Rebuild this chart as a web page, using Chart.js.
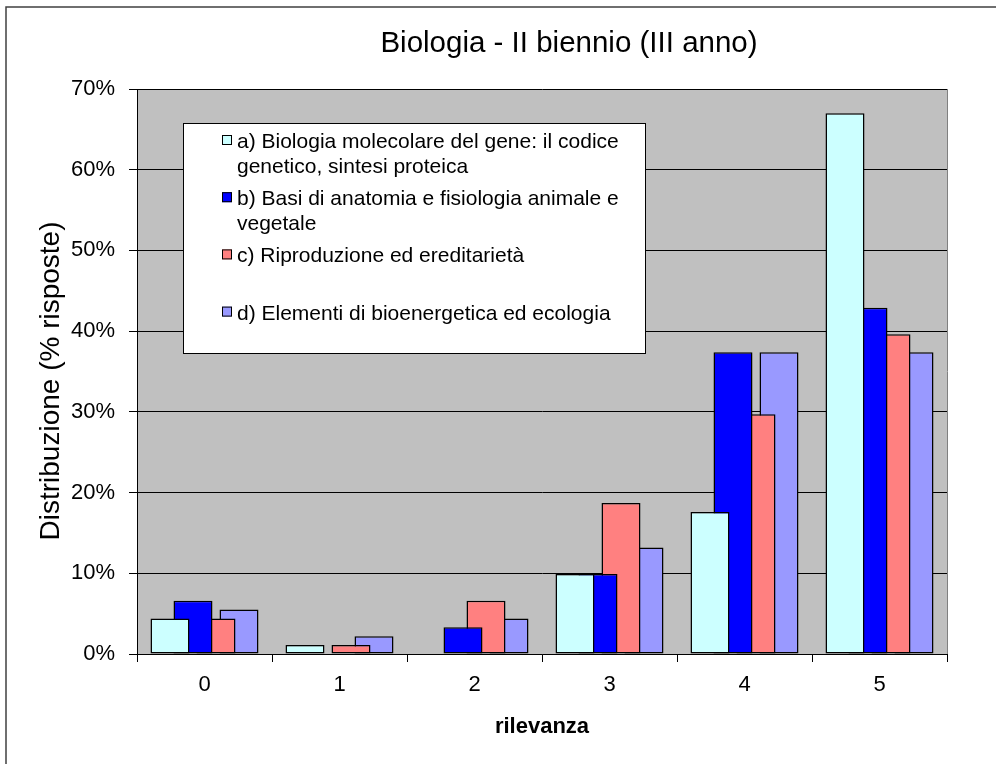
<!DOCTYPE html>
<html>
<head>
<meta charset="utf-8">
<script src="https://cdn.jsdelivr.net/npm/chart.js@4/dist/chart.umd.min.js"></script>
<style>
  body { margin: 0; background: #fff; }
</style>
</head>
<body>
<canvas id="bar-chart" width="996" height="764"></canvas>
<script>
// data
const categories = ['0', '1', '2', '3', '4', '5'];
const seriesA = [4.4, 1.1, 0, 9.9, 17.6, 67.0];
const seriesB = [6.6, 0, 3.3, 9.9, 37.4, 42.9];
const seriesC = [4.4, 1.1, 6.6, 18.7, 29.7, 39.6];
const seriesD = [5.5, 2.2, 4.4, 13.2, 37.4, 37.4];
const seriesNames = [
  ['a) Biologia molecolare del gene: il codice', 'genetico, sintesi proteica'],
  ['b) Basi di anatomia e fisiologia animale e', 'vegetale'],
  ['c) Riproduzione ed ereditarietà'],
  ['d) Elementi di bioenergetica ed ecologia']
];
const yTicks = [0, 10, 20, 30, 40, 50, 60, 70];

const FONT = '"Liberation Sans", Arial, sans-serif';
const colors = ['#CCFFFF', '#0000FF', '#FF8080', '#9999FF'];

// grey plot area + outer frame
const backdrop = {
  id: 'backdrop',
  beforeDraw(chart) {
    const { ctx, chartArea: a } = chart;
    ctx.save();
    ctx.fillStyle = '#C0C0C0';
    ctx.fillRect(a.left, a.top, a.right - a.left, a.bottom - a.top);
    ctx.strokeStyle = '#808080';
    ctx.lineWidth = 1;
    ctx.beginPath();
    ctx.moveTo(a.right + 0.5, a.top);
    ctx.lineTo(a.right + 0.5, a.bottom);
    ctx.stroke();
    ctx.strokeStyle = '#404040';
    ctx.lineWidth = 1.5;
    ctx.beginPath();
    ctx.moveTo(6, chart.height);
    ctx.lineTo(6, 7);
    ctx.lineTo(chart.width, 7);
    ctx.stroke();
    ctx.restore();
  }
};

// chart title and rotated y title, placed like the old spreadsheet chart
const titles = {
  id: 'titles',
  afterDraw(chart) {
    const ctx = chart.ctx;
    ctx.save();
    ctx.fillStyle = '#000';
    ctx.textAlign = 'center';
    ctx.textBaseline = 'alphabetic';
    ctx.font = '29.5px ' + FONT;
    ctx.fillText('Biologia - II biennio (III anno)', 569, 52);
    ctx.translate(59, 381);
    ctx.rotate(-Math.PI / 2);
    ctx.font = '28px ' + FONT;
    ctx.fillText('Distribuzione (% risposte)', 0, 0);
    ctx.restore();
  }
};

// boxed legend inside the plot, equal-height rows
const boxLegend = {
  id: 'boxLegend',
  afterDatasetsDraw(chart) {
    const ctx = chart.ctx;
    const box = { x: 183, y: 123, w: 462, h: 230 };
    const rowH = 57.2;
    ctx.save();
    ctx.fillStyle = '#fff';
    ctx.fillRect(box.x, box.y, box.w, box.h);
    ctx.strokeStyle = '#000';
    ctx.lineWidth = 1;
    ctx.strokeRect(box.x + 0.5, box.y + 0.5, box.w, box.h);
    ctx.font = '21px ' + FONT;
    ctx.textBaseline = 'alphabetic';
    chart.data.datasets.forEach((ds, i) => {
      const base = box.y + i * rowH + 25;
      ctx.fillStyle = ds.backgroundColor;
      ctx.fillRect(222, base - 13, 10, 10);
      ctx.strokeStyle = '#000';
      ctx.strokeRect(222.5, base - 12.5, 9, 9);
      ctx.fillStyle = '#000';
      ds.legendLines.forEach((line, j) => {
        ctx.fillText(line, 237, base + j * 25);
      });
    });
    ctx.restore();
  }
};

const datasets = [seriesA, seriesB, seriesC, seriesD].map((values, i) => ({
  label: seriesNames[i].join(' '),
  legendLines: seriesNames[i],
  data: values,
  backgroundColor: colors[i],
  borderColor: '#000',
  borderWidth: 1.5,
  borderSkipped: false,
  categoryPercentage: 0.6815,
  barPercentage: 1.696
}));

new Chart(document.getElementById('bar-chart'), {
  type: 'bar',
  data: { labels: categories, datasets: datasets },
  options: {
    responsive: false,
    animation: false,
    devicePixelRatio: 1,
    layout: { padding: { top: 89, right: 49, bottom: 0, left: 0 } },
    plugins: {
      legend: { display: false },
      title: { display: false },
      tooltip: { enabled: false }
    },
    scales: {
      x: {
        grid: { offset: true, drawOnChartArea: false, color: '#000', tickLength: 8 },
        border: { color: '#000', width: 1 },
        ticks: { color: '#000', font: { family: FONT, size: 22 }, padding: 10 },
        title: {
          display: true,
          text: 'rilevanza',
          color: '#000',
          font: { family: FONT, size: 22, weight: 'bold' },
          padding: { top: 0, bottom: 24 }
        },
        afterFit(scale) { scale.height = 110; }
      },
      y: {
        min: 0,
        max: 70,
        afterBuildTicks(scale) { scale.ticks = yTicks.map(v => ({ value: v })); },
        grid: { color: '#000', tickLength: 8 },
        border: { color: '#000', width: 1 },
        ticks: {
          color: '#000',
          font: { family: FONT, size: 22 },
          padding: 14,
          callback: v => v + '%'
        },
        afterFit(scale) { scale.width = 137; }
      }
    }
  },
  plugins: [backdrop, titles, boxLegend]
});
</script>
</body>
</html>
